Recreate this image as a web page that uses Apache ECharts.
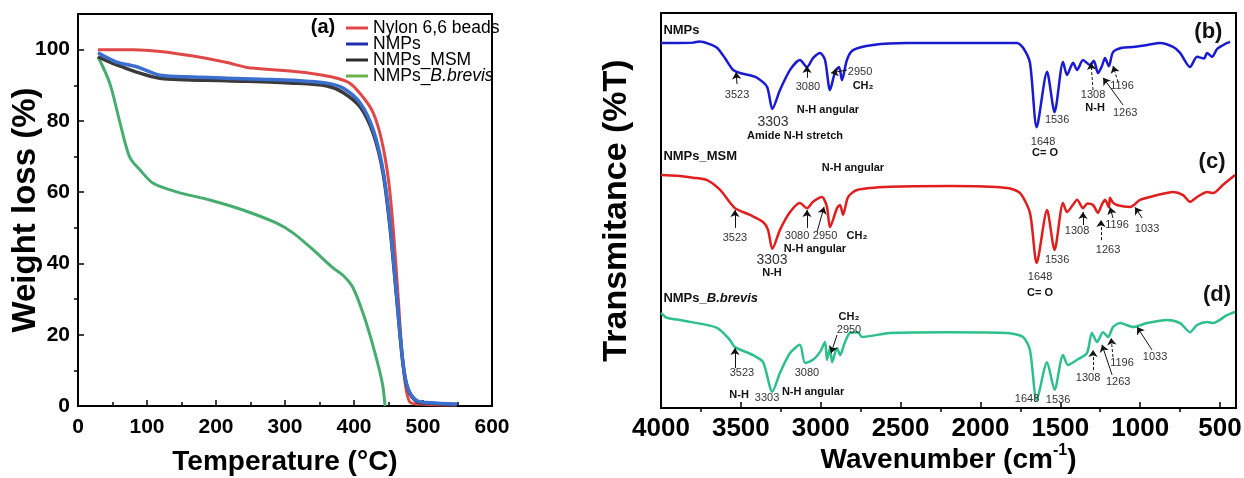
<!DOCTYPE html>
<html><head><meta charset="utf-8">
<script src="https://cdn.jsdelivr.net/npm/echarts@6/dist/echarts.min.js"></script>
<style>html,body{margin:0;padding:0;background:#fff}#c{width:1244px;height:478px}</style>
</head><body><div id="c"></div>
<script>
// ---------- TGA data (temperature °C, weight %) ----------
const nylonT = [29,80,119,167,216,245,288,336,369,394,413,428,440,450,457,464,471,481,500,549];
const nylonW = [100,100,99.5,98.2,96.4,95.0,94.3,93.4,92.3,90.6,86.7,82.2,74.6,63.4,49.4,30.6,12.1,1.1,0.5,0.3];
const nmpsT = [29,56,85,119,167,216,264,312,361,384,409,428,442,452,462,471,478,491,510,549];
const nmpsW = [99.1,96.5,95.2,92.8,92.3,92.0,91.7,91.4,90.6,89.2,85.0,77.4,66.2,51.3,30.6,12.1,5.0,1.5,0.9,0.5];
const msmT = [29,56,119,216,312,361,384,409,428,442,452,462,471,478,491,510,549];
const msmW = [98.0,95.7,92.0,91.3,90.6,89.8,88.0,83.9,76.4,65.5,50.5,30.0,11.8,4.8,1.3,0.8,0.4];
const brevT = [29,46,61,75,90,109,143,191,239,288,312,341,370,384,398,413,428,441,445];
const brevW = [98.0,90.6,79.4,69.8,66.2,62.5,60.1,57.8,55.0,51.3,48.5,43.8,38.7,36.7,33.4,26.1,16.6,6.5,0];
const tgaNames = ['Nylon 6,6 beads','NMPs','NMPs_MSM','NMPs_B.brevis'];
const tempTicks = [0,100,200,300,400,500,600];
const weightTicks = [0,20,40,60,80,100];
const weightMinor = [10,30,50,70,90];

// ---------- FTIR data (wavenumber cm-1, offset transmittance a.u.) ----------
const wnNMPs = [4000,3900,3800,3760,3700,3649,3600,3549,3505,3450,3399,3336,3303,3255,3192,3130,3086,3048,3004,2973,2942,2910,2885,2867,2836,2798,2673,2460,2200,2000,1800,1771,1733,1690,1648,1583,1536,1483,1458,1420,1395,1358,1314,1290,1264,1240,1220,1196,1170,1114,1044,957,875,794,750,688,644,600,581,550,518,456,437];
const trNMPs = [92.4,92.4,92.5,92.8,92.2,91.2,88.6,85.6,84.8,84.3,83.6,81.3,75.7,80.5,85.6,88.1,86.3,88.6,89.9,88.1,80.5,85.1,86.3,83.0,88.1,90.6,91.9,92.4,92.4,92.4,92.4,92.4,91.2,87.4,71.1,85.1,74.9,87.6,84.3,87.4,85.6,88.1,86.8,87.9,84.8,86.5,88.6,86.5,90.1,91.2,91.4,91.9,92.4,91.4,89.9,86.3,88.9,88.5,89.9,88.9,90.9,92.4,92.7];
const wnMSM = [4000,3900,3800,3712,3630,3537,3443,3361,3330,3303,3255,3192,3130,3086,3048,2992,2961,2942,2898,2879,2860,2829,2773,2566,2190,1833,1752,1690,1648,1583,1536,1483,1458,1420,1395,1358,1330,1295,1264,1240,1220,1196,1189,1170,1145,1100,1063,1033,1001,894,794,731,688,644,581,544,481,406];
const trMSM = [59.0,58.8,58.3,57.7,55.2,50.6,48.9,47.1,45.1,40.3,45.1,49.6,51.9,50.6,52.2,53.4,50.9,45.8,50.6,51.4,48.9,53.4,55.2,56.0,56.2,55.7,54.4,49.4,36.7,50.1,40.0,51.9,49.6,51.5,52.7,50.6,51.8,51.4,49.4,51.5,52.7,50.8,53.2,52.0,51.4,51.0,50.9,51.6,52.7,53.9,54.7,53.9,52.2,53.4,54.7,54.4,56.5,59.0];
const wnBrev = [4000,3962,3900,3818,3649,3568,3537,3424,3361,3303,3255,3192,3130,3098,3048,3004,2973,2961,2942,2929,2898,2879,2848,2817,2767,2742,2566,2190,1833,1733,1690,1648,1583,1536,1483,1452,1395,1333,1302,1270,1233,1201,1170,1126,1044,957,832,750,688,644,581,544,456,406];
const trBrev = [24.1,22.8,22.4,21.8,20.3,17.2,15.4,13.4,11.6,4.1,8.9,13.9,16.0,11.4,12.2,14.2,16.7,12.2,15.2,11.6,15.2,13.4,16.7,19.0,19.2,18.0,19.0,19.2,19.0,18.0,14.7,2.0,11.6,4.6,13.4,10.9,12.2,13.9,19.0,16.7,19.2,18.0,20.5,21.5,20.5,21.5,22.3,21.5,19.2,21.0,21.8,21.5,23.5,24.3];
const wnTicks = [4000,3500,3000,2500,2000,1500,1000,500];
const wnMinor = [3750,3250,2750,2250,1750,1250,750];

// ---------- annotations [text, wavenumber, value] ----------
const nmpsNums = [['3523',3524,79.3],['3080',3080,81.3],['2950',2754,85.1],['1536',1520,72.9],['1648',1608,67.4],['1308',1295,79.3],['1263',1094,74.7],['1196',1114,81.5]];
const nmpsBig = [['3303',3299,72.4]];
const nmpsBold = [['Amide N-H stretch',3161,68.9],['N-H angular',2955,75.5],['CH₂',2735,81.5],['C= O',1596,64.6],['N-H',1282,76.0]];
const nmpsArrows = [[3524,82.0,3530,85.0],[3086,83.6,3086,86.6],[2835,85.6,2935,84.8],[1107,76.7,1232,83.6]];
const nmpsDash = [[1295,80.5,1308,87.4],[1138,82.5,1170,86.6]];

const msmNums = [['3523',3537,43.0],['3080',3148,43.5],['2950',2973,43.5],['1308',1395,44.8],['1196',1145,46.3],['1263',1201,40.0],['1033',957,45.3],['1536',1520,37.5],['1648',1627,33.2]];
const msmBig = [['3303',3305,37.5]];
const msmBold = [['N-H angular',2798,60.8],['N-H',3305,34.2],['N-H angular',3036,40.3],['CH₂',2773,43.5],['C= O',1627,29.1]];
const msmArrows = [[3537,45.6,3537,50.1],[3086,45.6,3086,50.1],[3023,44.6,2979,50.9],[1358,46.3,1358,49.6],[1170,48.1,1189,50.8],[988,48.1,1032,50.8]];
const msmDash = [[1245,42.5,1245,47.6]];

const brevNums = [['2950',2823,19.7],['3523',3493,8.9],['3080',3086,8.9],['3303',3336,2.5],['1648',1708,2.3],['1536',1514,2.0],['1308',1326,7.6],['1263',1138,6.6],['1196',1114,11.4],['1033',907,12.9]];
const brevBold = [['CH₂',2823,23.0],['N-H',3511,3.3],['N-H angular',3048,4.1]];
const brevArrows = [[3537,10.1,3537,15.2],[2898,18.5,2935,13.9],[1176,8.4,1239,16.0],[926,14.7,1019,20.5]];
const brevDash = [[1295,9.6,1295,14.7],[1170,12.9,1182,17.7]];

const panelNames = [['NMPs',3985,95.7],['NMPs_{i|B.brevis}',3985,27.8],['NMPs_MSM',3985,63.6]];
const panelTags = [['(b)',573,95.2],['(c)',550,62.3],['(d)',519,28.6]];
const tgaTag = [['(a)',355,106.3]];

// ---------- styles ----------
const SANS = "'Liberation Sans',Arial,Helvetica,sans-serif";
const numLab = {fontFamily:SANS,fontSize:11,color:'#333'};
const bigLab = {fontFamily:SANS,fontSize:14,color:'#333'};
const boldLab = {fontFamily:SANS,fontSize:11,fontWeight:'bold',color:'#111'};
const nameLab = {fontFamily:SANS,fontSize:13,fontWeight:'bold',color:'#111',align:'left',
  rich:{i:{fontFamily:SANS,fontSize:13,fontWeight:'bold',fontStyle:'italic',color:'#111'}}};
const tagLab = {fontFamily:SANS,fontSize:22,fontWeight:'bold',color:'#111'};

function mk(list, lab){ return list.map(n => ({name:n[0], coord:[n[1],n[2]], label:lab})); }
function arrows(list, dashed){
  return list.map(a => [{coord:[a[0],a[1]], lineStyle:{type: dashed ? [3,2] : 'solid'}},{coord:[a[2],a[3]]}]);
}
function markPt(data){
  return {symbol:'circle',symbolSize:1,silent:true,itemStyle:{color:'rgba(0,0,0,0)'},
    label:{show:true,position:'inside',formatter:p=>p.name},data:data,animation:false};
}
function markLn(data){
  return {silent:true,symbol:['none','arrow'],symbolSize:7,label:{show:false},
    lineStyle:{color:'#111',width:1},emphasis:{disabled:true},data:data,animation:false};
}
const zip = (a,b) => a.map((v,i)=>[v,b[i]]);
const plain = v => String(v);

const axisLineStyle = {show:true,onZero:false,lineStyle:{color:'#000',width:2}};
const tickStyle = {lineStyle:{color:'#000',width:1.5}};

const chart = echarts.init(document.getElementById('c'));
const option = {
  animation:false,
  backgroundColor:'#fff',
  grid:[
    {left:78,top:14,width:414,height:392,show:true,borderColor:'#000',borderWidth:2,backgroundColor:'transparent',
     containLabel:false,outerBoundsMode:'none'},
    {left:661,top:13,width:575,height:395,show:true,borderColor:'#000',borderWidth:2,backgroundColor:'transparent',
     containLabel:false,outerBoundsMode:'none'}
  ],
  legend:{
    orient:'vertical',left:346,top:19,itemWidth:22,itemHeight:3,itemGap:-2,icon:'rect',padding:0,
    data:tgaNames,
    formatter:n => n==='NMPs_B.brevis' ? 'NMPs_{i|B.brevis}' : n,
    textStyle:{fontFamily:SANS,fontSize:17.5,color:'#000',
      rich:{i:{fontFamily:SANS,fontSize:17.5,fontStyle:'italic',color:'#000'}}}
  },
  xAxis:[
    {gridIndex:0,type:'value',min:0,max:600,interval:100,
     axisLine:axisLineStyle,axisTick:Object.assign({inside:true,length:6},tickStyle),
     minorTick:{show:true,splitNumber:2,length:4,lineStyle:{color:'#000',width:1.5}},
     splitLine:{show:false},minorSplitLine:{show:false},
     axisLabel:{fontFamily:SANS,fontWeight:'bold',fontSize:21,color:'#000',margin:11,formatter:plain},
     name:'Temperature (°C)',nameLocation:'middle',nameGap:42,nameMoveOverlap:false,
     nameTextStyle:{fontFamily:SANS,fontWeight:'bold',fontSize:28,color:'#000'}},
    {gridIndex:1,type:'value',min:400,max:4000,inverse:true,
     axisLine:axisLineStyle,axisTick:Object.assign({inside:true,length:6,customValues:wnTicks},tickStyle),
     splitLine:{show:false},
     axisLabel:{fontFamily:SANS,fontWeight:'bold',fontSize:26,color:'#000',margin:8,customValues:wnTicks,formatter:plain},
     name:'{a|Wavenumber (cm}{s|-1}{a|)}',nameLocation:'middle',nameGap:35,nameMoveOverlap:false,
     nameTextStyle:{rich:{
       a:{fontFamily:SANS,fontWeight:'bold',fontSize:28,color:'#000',lineHeight:34},
       s:{fontFamily:SANS,fontWeight:'bold',fontSize:16,color:'#000',verticalAlign:'top',lineHeight:34,padding:[0,0,12,0]}}}},
    {gridIndex:1,type:'value',min:400,max:4000,inverse:true,
     axisLine:{show:false},axisLabel:{show:false},splitLine:{show:false},
     axisTick:Object.assign({inside:true,length:4,customValues:wnMinor},tickStyle)}
  ],
  yAxis:[
    {gridIndex:0,type:'value',min:0,max:110,
     axisLine:axisLineStyle,axisTick:Object.assign({inside:true,length:6,customValues:weightTicks},tickStyle),
     splitLine:{show:false},
     axisLabel:{fontFamily:SANS,fontWeight:'bold',fontSize:21,color:'#000',margin:8,customValues:weightTicks,formatter:plain},
     name:'Weight loss (%)',nameLocation:'middle',nameGap:36,nameRotate:90,nameMoveOverlap:false,
     nameTextStyle:{fontFamily:SANS,fontWeight:'bold',fontSize:33,color:'#000'}},
    {gridIndex:0,type:'value',min:0,max:110,
     axisLine:{show:false},axisLabel:{show:false},splitLine:{show:false},
     axisTick:Object.assign({inside:true,length:4,customValues:weightMinor},tickStyle)},
    {gridIndex:1,type:'value',min:0,max:100,
     axisLine:axisLineStyle,axisTick:{show:false},axisLabel:{show:false},splitLine:{show:false},
     name:'Transmitance (%T)',nameLocation:'middle',nameGap:27,nameRotate:90,nameMoveOverlap:false,
     nameTextStyle:{fontFamily:SANS,fontWeight:'bold',fontSize:34,color:'#000'}}
  ],
  series:[
    {name:tgaNames[0],type:'line',xAxisIndex:0,yAxisIndex:0,data:zip(nylonT,nylonW),showSymbol:false,smooth:0.3,
     color:'#e04848',lineStyle:{width:3,color:'#e04848'},z:2,
     markPoint:markPt(mk(tgaTag,{fontFamily:SANS,fontSize:20,fontWeight:'bold',color:'#000'}))},
    {name:tgaNames[2],type:'line',xAxisIndex:0,yAxisIndex:0,data:zip(msmT,msmW),showSymbol:false,smooth:0.3,
     color:'#2b2b2b',lineStyle:{width:3.5,color:'#3a3a3a'},z:3},
    {name:tgaNames[1],type:'line',xAxisIndex:0,yAxisIndex:0,data:zip(nmpsT,nmpsW),showSymbol:false,smooth:0.3,
     color:'#1f2fb0',lineStyle:{width:3.5,color:'#3a6fd0'},z:4},
    {name:tgaNames[3],type:'line',xAxisIndex:0,yAxisIndex:0,data:zip(brevT,brevW),showSymbol:false,smooth:0.3,
     color:'#6ab04c',lineStyle:{width:3,color:'#46ad6e'},z:2},

    {name:'FTIR NMPs',type:'line',xAxisIndex:1,yAxisIndex:2,data:zip(wnNMPs,trNMPs),showSymbol:false,smooth:0.25,
     lineStyle:{width:2.5,color:'#1a1ad0'},
     markPoint:markPt([].concat(mk(nmpsNums,numLab),mk(nmpsBig,bigLab),mk(nmpsBold,boldLab),mk(panelNames,nameLab),mk(panelTags,tagLab))),
     markLine:markLn([].concat(arrows(nmpsArrows,false),arrows(nmpsDash,true)))},
    {name:'FTIR NMPs_MSM',type:'line',xAxisIndex:1,yAxisIndex:2,data:zip(wnMSM,trMSM),showSymbol:false,smooth:0.25,
     lineStyle:{width:2.5,color:'#e01e1e'},
     markPoint:markPt([].concat(mk(msmNums,numLab),mk(msmBig,bigLab),mk(msmBold,boldLab))),
     markLine:markLn([].concat(arrows(msmArrows,false),arrows(msmDash,true)))},
    {name:'FTIR NMPs_B.brevis',type:'line',xAxisIndex:1,yAxisIndex:2,data:zip(wnBrev,trBrev),showSymbol:false,smooth:0.25,
     lineStyle:{width:2.5,color:'#2ec08c'},
     markPoint:markPt([].concat(mk(brevNums,numLab),mk(brevBold,boldLab))),
     markLine:markLn([].concat(arrows(brevArrows,false),arrows(brevDash,true)))}
  ]
};
chart.setOption(option);
</script></body></html>
